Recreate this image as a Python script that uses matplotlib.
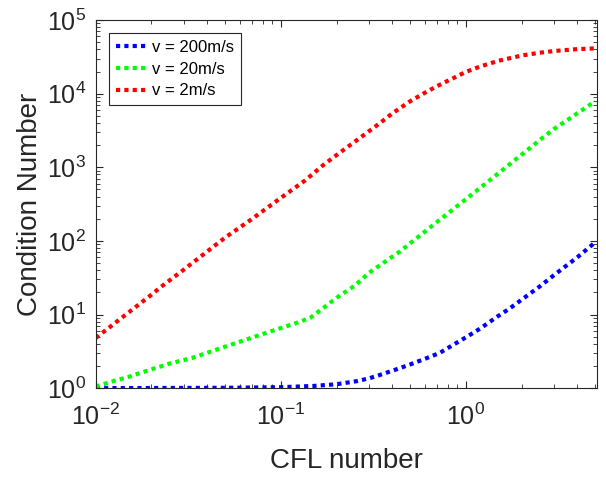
import numpy as np
import matplotlib
matplotlib.use('Agg')
import matplotlib.pyplot as plt
from matplotlib.ticker import LogLocator, NullFormatter

plt.rcParams['font.family'] = ['Liberation Sans', 'DejaVu Sans']
plt.rcParams['mathtext.fontset'] = 'custom'
plt.rcParams['mathtext.rm'] = 'Liberation Sans'
plt.rcParams['mathtext.it'] = 'Liberation Sans:italic'
plt.rcParams['mathtext.bf'] = 'Liberation Sans:bold'

# condition number vs CFL for three flow speeds
cfl_200 = [0.01, 0.05, 0.1, 0.15, 0.2, 0.26, 0.3, 0.34, 0.44, 0.5, 0.6, 0.72, 0.85,
           1.0, 1.2, 1.47, 1.7, 2.1, 2.5, 3.0, 4.0, 5.0]
cond_200 = [1.0, 1.01, 1.03, 1.07, 1.13, 1.25, 1.36, 1.5, 1.87, 2.1, 2.5, 3.0, 3.85,
            4.9, 6.5, 9.3, 11.8, 17.4, 24, 34.5, 60, 96]

cfl_20 = [0.01, 0.0125, 0.015, 0.02, 0.025, 0.033, 0.05, 0.07, 0.0964, 0.12, 0.144,
          0.17, 0.2, 0.25, 0.3, 0.44, 0.7, 1.0, 1.47, 2.0, 2.61, 3.0, 5.0]
cond_20 = [1.05, 1.25, 1.42, 1.8, 2.15, 2.56, 3.66, 4.87, 6.36, 7.6, 9.0,
           12.3, 16.9, 24.5, 37, 72, 182, 369, 798, 1487, 2547, 3330, 7900]

cfl_2 = [0.01, 0.02, 0.0224, 0.03, 0.05, 0.0689, 0.1, 0.135, 0.171, 0.2, 0.3, 0.347,
         0.4, 0.45, 0.5, 0.6, 0.7, 0.8, 1.0, 1.2, 1.5, 2.0, 2.5, 3.0, 4.0, 5.0]
cond_2 = [4.8, 18.6, 23.5, 41, 111, 194, 384, 661, 1092, 1466, 3100, 4077,
          5400, 6600, 7900, 10300, 12700, 15000, 19800, 23500, 28000, 33000, 36000,
          38000, 40300, 41300]

labels = ['v = 200m/s', 'v = 20m/s', 'v = 2m/s']
colors = ['#0000ff', '#00ff00', '#ff0000']

fig = plt.figure(figsize=(6.06, 4.78), dpi=100)
ax = fig.add_axes([0.158, 0.188, 0.827, 0.770])

for x, y, lab, c in zip([cfl_200, cfl_20, cfl_2], [cond_200, cond_20, cond_2], labels, colors):
    ax.plot(x, y, color=c, linewidth=3, linestyle=(0, (1, 1)), dash_capstyle='butt', label=lab)

ax.set_xscale('log')
ax.set_yscale('log')
ax.set_xlim(0.01, 5.1)
ax.set_ylim(1, 1e5)

ax.xaxis.set_major_locator(LogLocator(base=10, numticks=10))
ax.yaxis.set_major_locator(LogLocator(base=10, numticks=10))
ax.xaxis.set_minor_locator(LogLocator(base=10, subs=np.arange(2, 10), numticks=20))
ax.yaxis.set_minor_locator(LogLocator(base=10, subs=np.arange(2, 10), numticks=20))
ax.xaxis.set_minor_formatter(NullFormatter())
ax.yaxis.set_minor_formatter(NullFormatter())

tc = '#262626'
ax.tick_params(which='both', direction='in', top=True, right=True, colors=tc, labelsize=18)
ax.tick_params(which='major', length=5, width=0.8)
ax.tick_params(which='minor', length=3, width=0.6)
ax.tick_params(axis='x', pad=11)
ax.tick_params(axis='y', pad=7)
for s in ax.spines.values():
    s.set_color(tc)
    s.set_linewidth(0.8)

ax.set_xlabel('CFL number', fontsize=20, color=tc, labelpad=13)
ax.set_ylabel('Condition Number', fontsize=20, color=tc, labelpad=3)

leg = ax.legend(loc='upper left', fontsize=12, handlelength=1.8, handletextpad=0.4,
                labelspacing=0.4, borderaxespad=0.8, fancybox=False, framealpha=1)
leg.get_frame().set_edgecolor(tc)
leg.get_frame().set_linewidth(0.8)

fig.savefig('out.png', dpi=100)
